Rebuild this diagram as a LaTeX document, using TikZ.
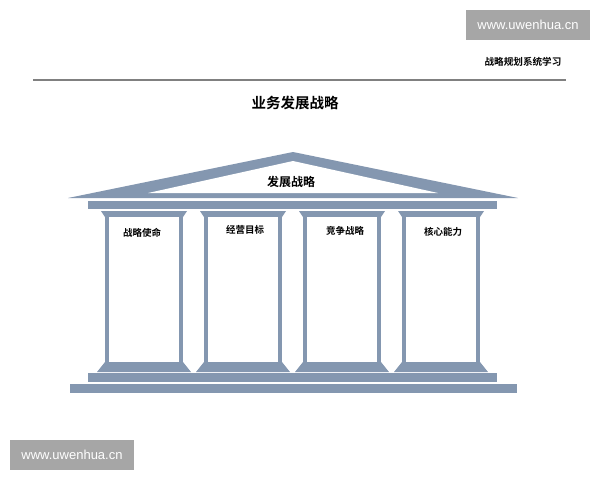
\documentclass[tikz,border=0pt]{standalone}
\usepackage{fontspec}
\setmainfont{Liberation Sans}
\newfontfamily\cjkb{Noto Sans CJK SC Bold}
\definecolor{slate}{HTML}{8497B0}
\definecolor{wmgray}{HTML}{A6A6A6}
\definecolor{rulegray}{HTML}{808080}
\tikzset{
  stone/.style={fill=slate},
  hole/.style={fill=white},
  wmbox/.style={fill=wmgray, text=white, minimum width=124pt, minimum height=30pt, inner sep=0pt, font=\fontsize{13}{15}\selectfont},
  label/.style={font=\cjkb\fontsize{9.5}{11}\selectfont, inner sep=0pt},
}
\begin{document}
\begin{tikzpicture}[x=1pt,y=-1pt]
\useasboundingbox (0,0) rectangle (600,480);
\fill[white] (0,0) rectangle (600,480);
% watermarks
\node[wmbox] (wmtop) at (528,25) {www.uwenhua.cn};
\node[wmbox] (wmbot) at (72,455) {www.uwenhua.cn};
% header
\node[font=\cjkb\fontsize{9.6}{11}\selectfont, inner sep=0pt] (header) at (523,62) {战略规划系统学习};
\draw[rulegray, line width=1.2pt] (33,80) -- (566,80);
\node[font=\cjkb\fontsize{14.5}{17}\selectfont, inner sep=0pt] (title) at (295,103) {业务发展战略};
% roof
\fill[stone] (68,198) -- (293,152) -- (518,198) -- cycle;
\fill[hole] (148,193) -- (293,161) -- (438,193) -- cycle;
\node[font=\cjkb\fontsize{12}{14}\selectfont, inner sep=0pt] (roof) at (291,182) {发展战略};
% entablature
\fill[stone] (88,201) rectangle (497,209);
% columns
\foreach \L in {105,204,303,402}{
  \fill[stone] ({\L-4},211) -- ({\L+82},211) -- ({\L+78},217) -- (\L,217) -- cycle;
  \fill[stone] (\L,217) rectangle ({\L+78},362);
  \fill[hole] ({\L+4},217) rectangle ({\L+74},362);
  \fill[stone] (\L,362) -- ({\L+78},362) -- ({\L+86},372) -- ({\L-8},372) -- cycle;
}
% plinths
\fill[stone] (88,373) rectangle (497,382);
\fill[stone] (70,384) rectangle (517,393);
% column labels
\node[label] (c1) at (142,233) {战略使命};
\node[label] (c2) at (245,230) {经营目标};
\node[label] (c3) at (345,231) {竞争战略};
\node[label] (c4) at (443,232) {核心能力};
\end{tikzpicture}
\end{document}
